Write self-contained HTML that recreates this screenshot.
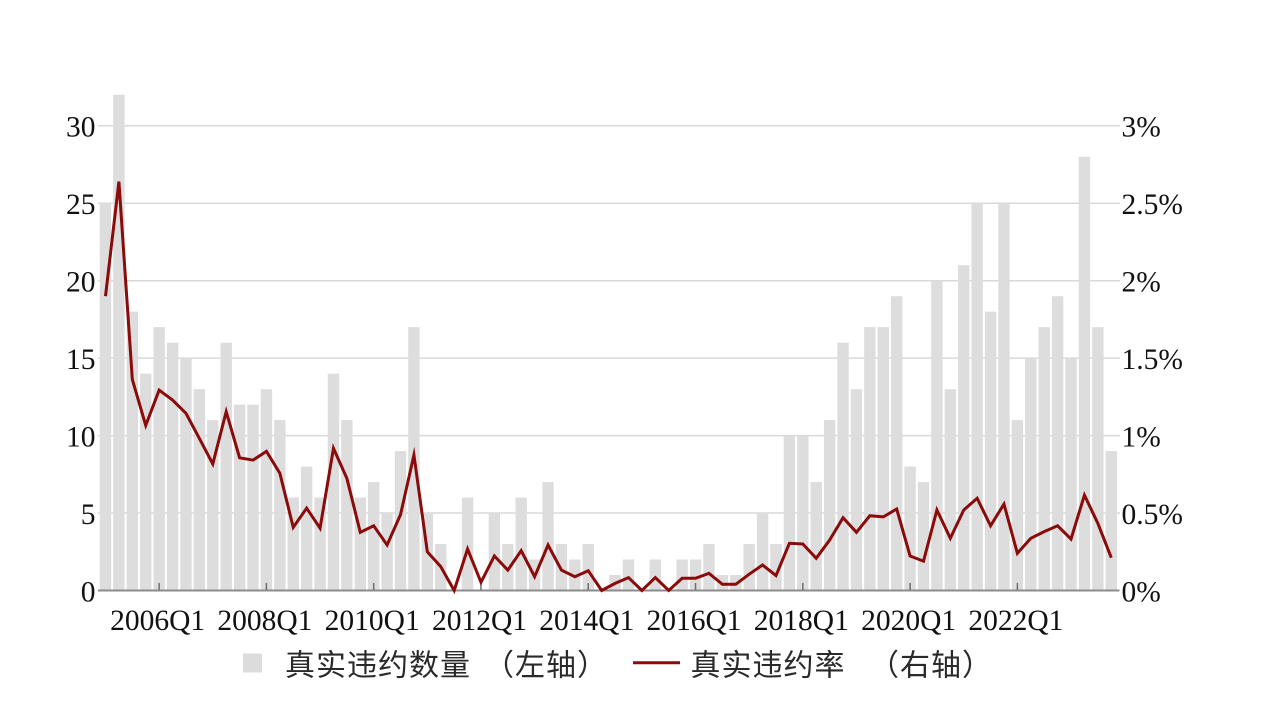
<!DOCTYPE html>
<html>
<head>
<meta charset="utf-8">
<style>
  html, body { margin:0; padding:0; background:#ffffff; }
  body { width:1269px; height:714px; overflow:hidden; }
  svg { display:block; }
  .tick { font-family:"Liberation Serif", "Noto Serif CJK SC", serif; font-size:29.5px; fill:#111; }
  .leg { font-family:"Liberation Sans", "Noto Sans CJK SC", sans-serif; font-size:30px; fill:#2a2a2a; letter-spacing:1px; }
</style>
</head>
<body>
<svg width="1269" height="714" viewBox="0 0 1269 714" xmlns="http://www.w3.org/2000/svg">
  <rect x="0" y="0" width="1269" height="714" fill="#ffffff"/>
  <g stroke="#d9d9d9" stroke-width="1.5">
    <line x1="98" y1="513.05" x2="1120" y2="513.05"/>
    <line x1="98" y1="435.6" x2="1120" y2="435.6"/>
    <line x1="98" y1="358.15" x2="1120" y2="358.15"/>
    <line x1="98" y1="280.7" x2="1120" y2="280.7"/>
    <line x1="98" y1="203.25" x2="1120" y2="203.25"/>
    <line x1="98" y1="125.8" x2="1120" y2="125.8"/>
  </g>
  <g fill="#dddddd">
    <rect x="99.8" y="203.25" width="11.4" height="387.25"/>
    <rect x="113.21" y="94.82" width="11.4" height="495.68"/>
    <rect x="126.62" y="311.68" width="11.4" height="278.82"/>
    <rect x="140.03" y="373.64" width="11.4" height="216.86"/>
    <rect x="153.44" y="327.17" width="11.4" height="263.33"/>
    <rect x="166.85" y="342.66" width="11.4" height="247.84"/>
    <rect x="180.26" y="358.15" width="11.4" height="232.35"/>
    <rect x="193.67" y="389.13" width="11.4" height="201.37"/>
    <rect x="207.08" y="420.11" width="11.4" height="170.39"/>
    <rect x="220.49" y="342.66" width="11.4" height="247.84"/>
    <rect x="233.9" y="404.62" width="11.4" height="185.88"/>
    <rect x="247.31" y="404.62" width="11.4" height="185.88"/>
    <rect x="260.72" y="389.13" width="11.4" height="201.37"/>
    <rect x="274.13" y="420.11" width="11.4" height="170.39"/>
    <rect x="287.54" y="497.56" width="11.4" height="92.94"/>
    <rect x="300.95" y="466.58" width="11.4" height="123.92"/>
    <rect x="314.36" y="497.56" width="11.4" height="92.94"/>
    <rect x="327.77" y="373.64" width="11.4" height="216.86"/>
    <rect x="341.18" y="420.11" width="11.4" height="170.39"/>
    <rect x="354.59" y="497.56" width="11.4" height="92.94"/>
    <rect x="368.0" y="482.07" width="11.4" height="108.43"/>
    <rect x="381.41" y="513.05" width="11.4" height="77.45"/>
    <rect x="394.82" y="451.09" width="11.4" height="139.41"/>
    <rect x="408.23" y="327.17" width="11.4" height="263.33"/>
    <rect x="421.64" y="513.05" width="11.4" height="77.45"/>
    <rect x="435.05" y="544.03" width="11.4" height="46.47"/>
    <rect x="461.87" y="497.56" width="11.4" height="92.94"/>
    <rect x="488.69" y="513.05" width="11.4" height="77.45"/>
    <rect x="502.1" y="544.03" width="11.4" height="46.47"/>
    <rect x="515.51" y="497.56" width="11.4" height="92.94"/>
    <rect x="528.92" y="559.52" width="11.4" height="30.98"/>
    <rect x="542.33" y="482.07" width="11.4" height="108.43"/>
    <rect x="555.74" y="544.03" width="11.4" height="46.47"/>
    <rect x="569.15" y="559.52" width="11.4" height="30.98"/>
    <rect x="582.56" y="544.03" width="11.4" height="46.47"/>
    <rect x="609.38" y="575.01" width="11.4" height="15.49"/>
    <rect x="622.79" y="559.52" width="11.4" height="30.98"/>
    <rect x="649.61" y="559.52" width="11.4" height="30.98"/>
    <rect x="676.43" y="559.52" width="11.4" height="30.98"/>
    <rect x="689.84" y="559.52" width="11.4" height="30.98"/>
    <rect x="703.25" y="544.03" width="11.4" height="46.47"/>
    <rect x="716.66" y="575.01" width="11.4" height="15.49"/>
    <rect x="730.07" y="575.01" width="11.4" height="15.49"/>
    <rect x="743.48" y="544.03" width="11.4" height="46.47"/>
    <rect x="756.89" y="513.05" width="11.4" height="77.45"/>
    <rect x="770.3" y="544.03" width="11.4" height="46.47"/>
    <rect x="783.71" y="435.6" width="11.4" height="154.9"/>
    <rect x="797.12" y="435.6" width="11.4" height="154.9"/>
    <rect x="810.53" y="482.07" width="11.4" height="108.43"/>
    <rect x="823.94" y="420.11" width="11.4" height="170.39"/>
    <rect x="837.35" y="342.66" width="11.4" height="247.84"/>
    <rect x="850.76" y="389.13" width="11.4" height="201.37"/>
    <rect x="864.17" y="327.17" width="11.4" height="263.33"/>
    <rect x="877.58" y="327.17" width="11.4" height="263.33"/>
    <rect x="890.99" y="296.19" width="11.4" height="294.31"/>
    <rect x="904.4" y="466.58" width="11.4" height="123.92"/>
    <rect x="917.81" y="482.07" width="11.4" height="108.43"/>
    <rect x="931.22" y="280.7" width="11.4" height="309.8"/>
    <rect x="944.63" y="389.13" width="11.4" height="201.37"/>
    <rect x="958.04" y="265.21" width="11.4" height="325.29"/>
    <rect x="971.45" y="203.25" width="11.4" height="387.25"/>
    <rect x="984.86" y="311.68" width="11.4" height="278.82"/>
    <rect x="998.27" y="203.25" width="11.4" height="387.25"/>
    <rect x="1011.68" y="420.11" width="11.4" height="170.39"/>
    <rect x="1025.09" y="358.15" width="11.4" height="232.35"/>
    <rect x="1038.5" y="327.17" width="11.4" height="263.33"/>
    <rect x="1051.91" y="296.19" width="11.4" height="294.31"/>
    <rect x="1065.32" y="358.15" width="11.4" height="232.35"/>
    <rect x="1078.73" y="156.78" width="11.4" height="433.72"/>
    <rect x="1092.14" y="327.17" width="11.4" height="263.33"/>
    <rect x="1105.55" y="451.09" width="11.4" height="139.41"/>
  </g>
  <line x1="98" y1="590.5" x2="1119.5" y2="590.5" stroke="#8c8c8c" stroke-width="2"/>
  <g stroke="#6e6e6e" stroke-width="1.5">
    <line x1="159.14" y1="583" x2="159.14" y2="590"/>
    <line x1="266.42" y1="583" x2="266.42" y2="590"/>
    <line x1="373.7" y1="583" x2="373.7" y2="590"/>
    <line x1="480.98" y1="583" x2="480.98" y2="590"/>
    <line x1="588.26" y1="583" x2="588.26" y2="590"/>
    <line x1="695.54" y1="583" x2="695.54" y2="590"/>
    <line x1="802.82" y1="583" x2="802.82" y2="590"/>
    <line x1="910.1" y1="583" x2="910.1" y2="590"/>
    <line x1="1017.38" y1="583" x2="1017.38" y2="590"/>
  </g>
  <polyline fill="none" stroke="#8b0a0a" stroke-width="3" stroke-linejoin="miter" stroke-miterlimit="10"
    points="105.5,296.2 118.91,181.6 132.32,379.4 145.73,425.4 159.14,390.1 172.55,400.0 185.96,413.3 199.37,438.4 212.78,464.0 226.19,411.7 239.6,457.8 253.01,460.1 266.42,451.4 279.83,473.2 293.24,527.3 306.65,508.2 320.06,528.2 333.47,448.3 346.88,478.4 360.29,532.3 373.7,525.8 387.11,545.0 400.52,514.6 413.93,455.0 427.34,551.8 440.75,566.6 454.16,590.5 467.57,549.0 480.98,582.3 494.39,556.0 507.8,570.1 521.21,550.7 534.62,576.7 548.03,545.0 561.44,570.1 574.85,576.7 588.26,570.7 601.67,590.5 615.08,583.4 628.49,577.6 641.9,590.5 655.31,577.6 668.72,590.5 682.13,578.3 695.54,578.3 708.95,573.3 722.36,584.3 735.77,584.3 749.18,574.2 762.59,565.0 776.0,575.6 789.41,543.3 802.82,544.0 816.23,558.3 829.64,540.0 843.05,517.7 856.46,532.3 869.87,515.7 883.28,516.9 896.69,509.0 910.1,556.0 923.51,561.1 936.92,510.0 950.33,538.3 963.74,510.0 977.15,498.3 990.56,525.8 1003.97,504.1 1017.38,553.3 1030.79,538.3 1044.2,531.6 1057.61,525.8 1071.02,539.1 1084.43,495.1 1097.84,523.3 1111.25,557.7"/>
  <g class="tick" text-anchor="end">
    <text x="95.5" y="136.5">30</text>
    <text x="95.5" y="214">25</text>
    <text x="95.5" y="291.5">20</text>
    <text x="95.5" y="369">15</text>
    <text x="95.5" y="446.5">10</text>
    <text x="95.5" y="524">5</text>
    <text x="95.5" y="601.5">0</text>
  </g>
  <g class="tick" text-anchor="start">
    <text x="1121.5" y="136.5">3%</text>
    <text x="1121.5" y="214">2.5%</text>
    <text x="1121.5" y="291.5">2%</text>
    <text x="1121.5" y="369">1.5%</text>
    <text x="1121.5" y="446.5">1%</text>
    <text x="1121.5" y="524">0.5%</text>
    <text x="1121.5" y="601.5">0%</text>
  </g>
  <g class="tick" text-anchor="middle">
    <text x="157.6" y="630">2006Q1</text>
    <text x="264.9" y="630">2008Q1</text>
    <text x="372.2" y="630">2010Q1</text>
    <text x="479.5" y="630">2012Q1</text>
    <text x="586.8" y="630">2014Q1</text>
    <text x="694" y="630">2016Q1</text>
    <text x="801.3" y="630">2018Q1</text>
    <text x="908.6" y="630">2020Q1</text>
    <text x="1015.9" y="630">2022Q1</text>
  </g>
  <rect x="243" y="653.5" width="19" height="19" fill="#dcdcdc"/>
  <text class="leg" x="285" y="675.5">真实违约数量</text>
  <text class="leg" x="484" y="675.5">（左轴）</text>
  <line x1="633" y1="662.7" x2="680" y2="662.7" stroke="#8b0a0a" stroke-width="3"/>
  <text class="leg" x="690.5" y="675.5">真实违约率</text>
  <text class="leg" x="869" y="675.5">（右轴）</text>
</svg>
</body>
</html>
